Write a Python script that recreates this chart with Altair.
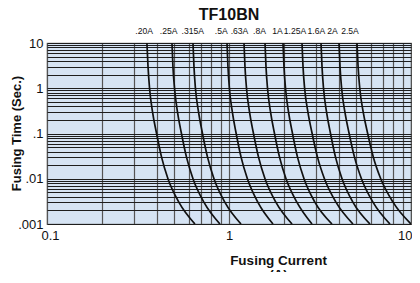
import altair as alt
import pandas as pd

# fusing times (s) at which each curve was read
times = [10, 3, 1, 0.3, 0.1, 0.03, 0.01, 0.003, 0.001]

ratings = [".20A", ".25A", ".315A", ".5A", ".63A", ".8A", "1A", "1.25A", "1.6A", "2A", "2.5A"]

# current (A) read for each rating at each of the times above
curves = {
    ".20A":  [0.354, 0.359, 0.366, 0.380, 0.400, 0.426, 0.462, 0.531, 0.650],
    ".25A":  [0.486, 0.492, 0.502, 0.521, 0.548, 0.584, 0.634, 0.729, 0.892],
    ".315A": [0.634, 0.642, 0.654, 0.680, 0.715, 0.762, 0.827, 0.950, 1.164],
    ".5A":   [0.975, 0.987, 1.005, 1.043, 1.095, 1.165, 1.262, 1.442, 1.745],
    ".63A":  [1.209, 1.224, 1.248, 1.296, 1.363, 1.453, 1.577, 1.812, 2.220],
    ".8A":   [1.577, 1.597, 1.628, 1.691, 1.778, 1.895, 2.057, 2.364, 2.858],
    "1A":    [1.980, 2.005, 2.044, 2.123, 2.233, 2.379, 2.583, 2.968, 3.680],
    "1.25A": [2.518, 2.551, 2.603, 2.713, 2.863, 3.063, 3.345, 3.877, 4.800],
    "1.6A":  [3.203, 3.244, 3.306, 3.434, 3.612, 3.848, 4.178, 4.802, 5.953],
    "2A":    [4.021, 4.074, 4.157, 4.332, 4.572, 4.892, 5.342, 6.190, 7.665],
    "2.5A":  [5.050, 5.120, 5.230, 5.460, 5.780, 6.210, 6.820, 7.980, 10.00],
}

# label positions (A) across the top
label_currents = [0.342, 0.466, 0.633, 0.907, 1.142, 1.471, 1.847, 2.305, 3.018, 3.704, 4.622]

decades = [0.001, 0.01, 0.1, 1]
x_decades = [0.1, 1]
mults = [1, 2, 3, 4, 5, 6, 7, 8, 9]
y_grid = [m * d for d in decades for m in mults] + [10]
x_grid = [m * d for d in x_decades for m in mults] + [10]

rows = []
for r in ratings:
    for i, (t, c) in enumerate(zip(times, curves[r])):
        rows.append({"rating": r, "order": i, "current": c, "time": t})
df = pd.DataFrame(rows)

lab = pd.DataFrame({"rating": ratings, "current": label_currents, "time": [10] * len(ratings)})

xscale = alt.Scale(type="log", domain=[0.1, 10], nice=False)
yscale = alt.Scale(type="log", domain=[0.001, 10], nice=False)

font = "Liberation Sans"

x_axis = alt.Axis(
    values=x_grid,
    labelExpr="datum.value == 0.1 ? '0.1' : datum.value == 1 ? '1' : datum.value == 10 ? '10' : ''",
    grid=True, gridColor="#555555", gridWidth=1.2, gridOpacity=1,
    ticks=False, domain=False, labelOverlap=False, labelBound=False, labelFlush=False,
    labelAlign={"condition": {"test": "datum.value == 10", "value": "right"}, "value": "center"},
    labelOffset={"condition": [{"test": "datum.value == 10", "value": 1},
                               {"test": "datum.value == 0.1", "value": 3}], "value": 0},
    labelFont=font, labelFontSize=13, labelColor="#111", labelPadding=5,
    title=["Fusing Current", "(A)"], titleFont=font, titleFontSize=13.5,
    titleFontWeight="bold", titleColor="#111", titleLineHeight=14,
    titleX=231, titleY=29, titleBaseline="top", titleAlign="center",
)
y_axis = alt.Axis(
    values=y_grid,
    labelExpr="datum.value == 10 ? '10' : datum.value == 1 ? '1' : datum.value == 0.1 ? '.1' : datum.value == 0.01 ? '.01' : datum.value == 0.001 ? '.001' : ''",
    grid=True, gridColor="#1e1e1e", gridWidth=1, gridOpacity=1,
    ticks=False, domain=False, labelOverlap=False, labelBound=False, labelFlush=False,
    labelFont=font, labelFontSize=13, labelColor="#111", labelPadding=4,
    title="Fusing Time (Sec.)", titleFont=font, titleFontSize=13,
    titleFontWeight="bold", titleColor="#111",
    titleX=-31, titleY=90, titleBaseline="middle", titleAlign="center", titleAngle=270,
)

lines = alt.Chart(df).mark_line(color="#111", strokeWidth=1.7, interpolate="monotone", clip=True).encode(
    x=alt.X("current:Q", scale=xscale, axis=x_axis),
    y=alt.Y("time:Q", scale=yscale, axis=y_axis),
    detail="rating:N",
    order="order:Q",
)

labels = alt.Chart(lab).mark_text(
    font=font, fontSize=8.6, color="#111",
    baseline="alphabetic", dy=-9,
).encode(
    x=alt.X("current:Q", scale=xscale),
    y=alt.Y("time:Q", scale=yscale),
    text="rating:N",
)

chart = alt.layer(lines, labels).properties(
    width=364, height=181,
    title=alt.TitleParams("TF10BN", font=font, fontSize=16, fontWeight="bold", color="#111",
                          offset=4, anchor="middle", frame="group"),
    autosize=alt.AutoSizeParams(type="none"),
    padding={"left": 39, "top": 35, "right": 1, "bottom": 48},
    background="white",
).configure_view(fill="#d6e4f4", stroke="#7a7a7a", strokeWidth=1.2)

chart.save("out.html", embed_options={"renderer": "svg", "actions": False})
